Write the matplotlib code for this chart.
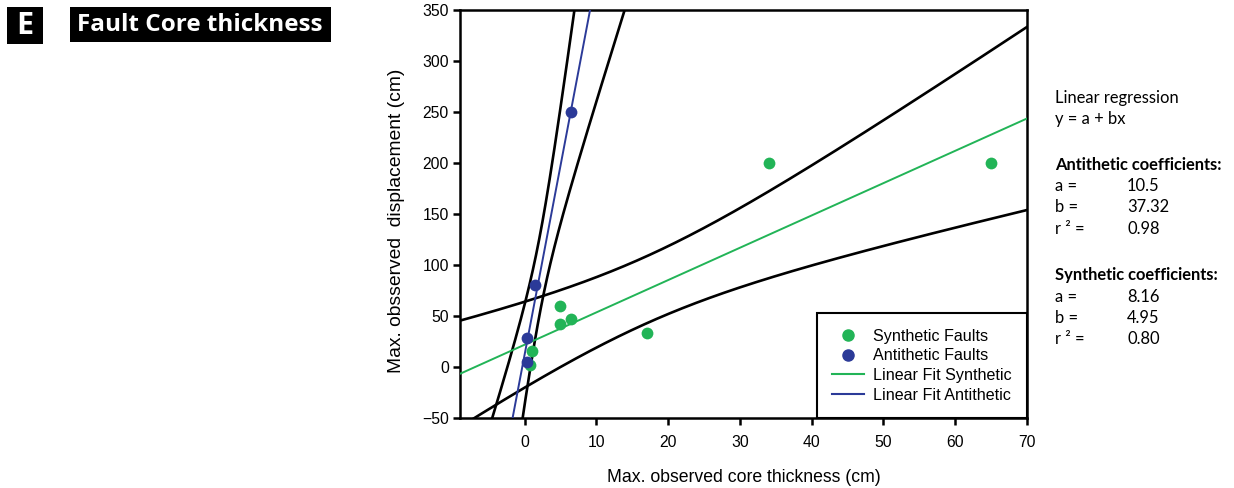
import numpy as np
import matplotlib
matplotlib.use("Agg")
import matplotlib.pyplot as plt
from matplotlib.lines import Line2D
from matplotlib.patches import Rectangle

# ---- data ----
syn_x = [0.7, 1.0, 5.0, 5.0, 6.5, 17.0, 34.0, 65.0]
syn_y = [2, 16, 60, 42, 47, 33, 200, 200]
anti_x = [0.3, 0.3, 1.4, 6.5]
anti_y = [5, 28, 80, 250]

x_ticks = [0, 10, 20, 30, 40, 50, 60, 70]
y_ticks = [-50, 0, 50, 100, 150, 200, 250, 300, 350]

t95 = {6: 2.447, 2: 4.303}  # two-sided 95% t quantiles

coef_left = ["Linear regression", "y = a + bx",
             "Antithetic coefficients:", "a =", "b =", "r \u00b2 =",
             "Synthetic coefficients:", "a =", "b =", "r \u00b2 ="]
coef_right = ["", "", "", "10.5", "37.32", "0.98", "", "8.16", "4.95", "0.80"]
coef_bold = [False, False, True, False, False, False, True, False, False, False]
coef_ypix = [98, 119, 165, 186, 207, 229, 275, 297, 318, 339]

GREEN = "#22b457"
BLUE = "#2b3a98"

plt.rcParams["font.family"] = ["Liberation Sans", "DejaVu Sans"]

W, H = 1234, 488
fig = plt.figure(figsize=(W / 100, H / 100), dpi=100)
ax = fig.add_axes([460 / W, 1 - 418 / H, 567 / W, 408 / H])

xmin, xmax = -9, 70
ymin, ymax = -50, 350


def fit_and_band(x, y):
    x = np.asarray(x, float)
    y = np.asarray(y, float)
    n = len(x)
    b, a = np.polyfit(x, y, 1)
    res = y - (a + b * x)
    s = np.sqrt(np.sum(res ** 2) / (n - 2))
    sxx = np.sum((x - x.mean()) ** 2)
    xx = np.linspace(xmin - 5, xmax + 5, 800)
    yy = a + b * xx
    half = t95[n - 2] * s * np.sqrt(1 / n + (xx - x.mean()) ** 2 / sxx)
    return xx, yy, yy - half, yy + half


for xs, ys in [(syn_x, syn_y), (anti_x, anti_y)]:
    xx, yy, lo, hi = fit_and_band(xs, ys)
    ax.plot(xx, lo, color="black", lw=1.9, zorder=2)
    ax.plot(xx, hi, color="black", lw=1.9, zorder=2)

xx, yy, _, _ = fit_and_band(syn_x, syn_y)
ax.plot(xx, yy, color=GREEN, lw=1.4, zorder=3)
xx, yy, _, _ = fit_and_band(anti_x, anti_y)
ax.plot(xx, yy, color=BLUE, lw=1.4, zorder=3)

ax.scatter(syn_x, syn_y, s=72, color=GREEN, zorder=4, linewidths=0)
ax.scatter(anti_x, anti_y, s=72, color=BLUE, zorder=5, linewidths=0)

handles = [
    Line2D([], [], marker="o", ls="none", color=GREEN, markersize=8),
    Line2D([], [], marker="o", ls="none", color=BLUE, markersize=8),
    Line2D([], [], color=GREEN, lw=1.5),
    Line2D([], [], color=BLUE, lw=1.5),
]
labels = ["Synthetic Faults", "Antithetic Faults", "Linear Fit Synthetic", "Linear Fit Antithetic"]
leg = ax.legend(handles, labels, loc="lower right", borderaxespad=0, fancybox=False,
                fontsize=11.6, handlelength=2.0, handletextpad=0.55, labelspacing=0.29,
                borderpad=0.95, framealpha=1)
leg.get_frame().set_edgecolor("black")
leg.get_frame().set_linewidth(1.5)

ax.set_xlim(xmin, xmax)
ax.set_ylim(ymin, ymax)
ax.set_xticks(x_ticks)
ax.set_yticks(y_ticks)
for sp in ax.spines.values():
    sp.set_linewidth(1.8)
ax.tick_params(direction="out", length=5, width=1.8, labelsize=11.3)
ax.tick_params(axis="y", pad=3)
ax.tick_params(axis="x", pad=7)
ax.set_xlabel("Max. observed core thickness (cm)", fontsize=12.7, labelpad=14)
ax.set_ylabel("Max. obsserved  displacement (cm)", fontsize=13.9)
ax.yaxis.set_label_coords((405 - 460) / 567, (418 - 221) / 408)

# title blocks
tfont = ["Open Sans", "DejaVu Sans"]
fig.add_artist(Rectangle((7 / W, 1 - 44 / H), 36 / W, 37 / H, transform=fig.transFigure,
                         fc="black", ec="none"))
fig.add_artist(Rectangle((70 / W, 1 - 42 / H), 261 / W, 35 / H, transform=fig.transFigure,
                         fc="black", ec="none"))
fig.text(25 / W, 1 - 26 / H, "E", color="white", fontsize=22, fontweight="bold",
         family=tfont, va="center", ha="center")
fig.text(200 / W, 1 - 25 / H, "Fault Core thickness", color="white", fontsize=17.5,
         fontweight="bold", family=tfont, va="center", ha="center")

# coefficient text
rfont = ["Lato", "DejaVu Sans"]
for left, right, bold, ypix in zip(coef_left, coef_right, coef_bold, coef_ypix):
    fig.text(1055 / W, 1 - ypix / H, left, fontsize=11.9,
             fontweight="bold" if bold else "normal",
             family=rfont, va="center", ha="left")
    if right:
        fig.text(1127 / W, 1 - ypix / H, right, fontsize=11.9, family=rfont,
                 va="center", ha="left")

fig.savefig("out.png", dpi=100)
